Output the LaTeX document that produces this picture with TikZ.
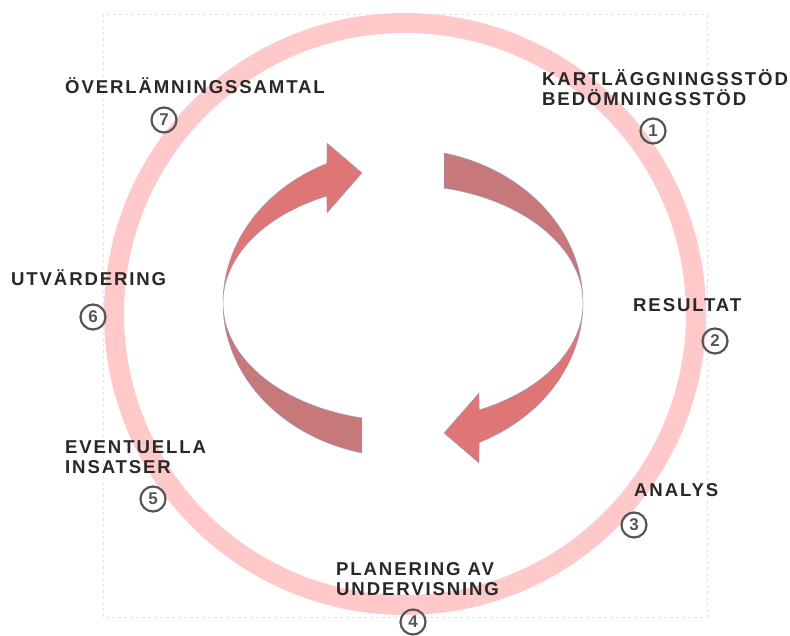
\documentclass[tikz,border=0pt]{standalone}
\usepackage{fontspec}
\setmainfont{Liberation Sans}
\newfontfamily\labfont[LetterSpace=10]{Liberation Sans}
\definecolor{ringpink}{RGB}{255,201,201}
\definecolor{arrowlight}{RGB}{223,118,118}
\definecolor{arrowdark}{RGB}{199,120,120}
\definecolor{arrowedge}{RGB}{150,160,205}
\definecolor{textgray}{RGB}{40,40,40}
\definecolor{numgray}{RGB}{85,85,85}
\definecolor{framegray}{RGB}{228,228,228}
\begin{document}
\begin{tikzpicture}[x=1pt,y=1pt,
	lab/.style={anchor=base west, inner sep=0pt, align=left, text=textgray, font=\labfont\bfseries\fontsize{18.6}{20}\selectfont},
	num/.style={circle, draw=numgray, line width=2.2pt, minimum size=25pt, inner sep=0pt, text=numgray, font=\bfseries\fontsize{17}{17}\selectfont}]
	\useasboundingbox (0,0) rectangle (790,635);
	\draw[framegray, dashed, line width=1pt] (103,18) rectangle (707,620);
	\draw[ringpink, line width=20pt] (405,321) circle (291);
	% left arrow, turned round for the right one
	\foreach \r in {0,180} {
		\begin{scope}[rotate around={\r:(403,332)}]
			\filldraw[fill=arrowdark, draw=arrowedge, line width=0.4pt] (223,332) arc[start angle=180, end angle=256.8, x radius=180, y radius=154] -- (361.9,217.1) arc[start angle=256.8, end angle=180, x radius=180, y radius=118] -- cycle;
			\filldraw[fill=arrowlight, draw=arrowedge, line width=0.4pt] (223,332) arc[start angle=180, end angle=115, x radius=180, y radius=154] -- (327,492) -- (362,462) -- (327,422) -- (326.9,438.9) arc[start angle=115, end angle=180, x radius=180, y radius=118] -- cycle;
		\end{scope}
	}
	\node[lab] (l1) at (542,529) {KARTLÄGGNINGSSTÖD\\BEDÖMNINGSSTÖD};
	\node[lab] (l2) at (633,323) {RESULTAT};
	\node[lab] (l3) at (634,138) {ANALYS};
	\node[lab] (l4) at (336,40) {PLANERING AV\\UNDERVISNING};
	\node[lab] (l5) at (65,161) {EVENTUELLA\\INSATSER};
	\node[lab] (l6) at (11,349) {UTVÄRDERING};
	\node[lab] (l7) at (65,541) {ÖVERLÄMNINGSSAMTAL};
	\node[num] (n1) at (653,504) {1};
	\node[num] (n2) at (715,294) {2};
	\node[num] (n3) at (634,110) {3};
	\node[num] (n4) at (413,13) {4};
	\node[num] (n5) at (153,136) {5};
	\node[num] (n6) at (93,318) {6};
	\node[num] (n7) at (164,515) {7};
\end{tikzpicture}
\end{document}
